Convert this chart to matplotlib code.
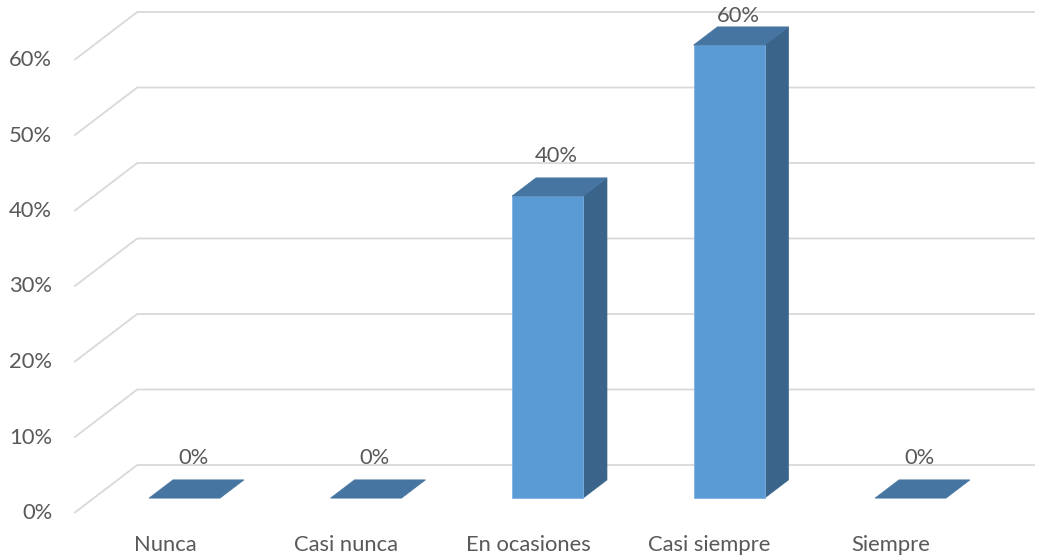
import matplotlib
matplotlib.use("Agg")
import matplotlib.pyplot as plt
from matplotlib.patches import Polygon

categories = ["Nunca", "Casi nunca", "En ocasiones", "Casi siempre", "Siempre"]
values = [0, 0, 40, 60, 0]
value_labels = ["0%", "0%", "40%", "60%", "0%"]
ticks = [0, 10, 20, 30, 40, 50, 60]
tick_labels = ["0%", "10%", "20%", "30%", "40%", "50%", "60%"]

plt.rcParams["font.family"] = ["Lato", "DejaVu Sans"]

W, H, DPI = 1038, 560, 100
fig = plt.figure(figsize=(W / DPI, H / DPI), dpi=DPI)
ax = fig.add_axes([0, 0, 1, 1])
ax.set_axis_off()

# scale: one category = 181.5 px, one percent = 7.55 px
CAT_PX, PCT_PX = 181.5, 7.55
X0_PX, Y0_PX = 165.0, 513.0
ax.set_xlim(-X0_PX / CAT_PX, (W - X0_PX) / CAT_PX)
ax.set_ylim(-(H - Y0_PX) / PCT_PX, Y0_PX / PCT_PX)

# oblique depth offset of the floor/wall (in data units)
DX = 63 / CAT_PX
DY = 48 / PCT_PX

grid_col = "#D9D9D9"
text_col = "#595959"
x_front_left = -0.5
x_right = (W - 3 - X0_PX) / CAT_PX

for t, lab in zip(ticks, tick_labels):
    ax.plot([x_front_left, x_front_left + DX, x_right], [t, t + DY, t + DY],
            color=grid_col, lw=1.3, zorder=1, solid_capstyle="butt")
    ax.text(x_front_left - 22 / CAT_PX, t, lab, ha="right", va="center",
            fontsize=15.8, color=text_col)

front_col = "#5B9BD5"
top_col = "#4675A1"
side_col = "#3A6489"
hw = 71 / CAT_PX / 2
z0, z1 = 0.31, 0.69

# data labels sit above the top face but stay inside the plot area
label_ceiling = (Y0_PX - 16) / PCT_PX

for i, (v, lab) in enumerate(zip(values, value_labels)):
    xl = i - hw
    xr = i + hw
    if v > 0:
        side = [(xr + z0 * DX, z0 * DY), (xr + z1 * DX, z1 * DY),
                (xr + z1 * DX, v + z1 * DY), (xr + z0 * DX, v + z0 * DY)]
        ax.add_patch(Polygon(side, closed=True, facecolor=side_col,
                             edgecolor=side_col, lw=0.5, zorder=3))
        front = [(xl + z0 * DX, z0 * DY), (xr + z0 * DX, z0 * DY),
                 (xr + z0 * DX, v + z0 * DY), (xl + z0 * DX, v + z0 * DY)]
        ax.add_patch(Polygon(front, closed=True, facecolor=front_col,
                             edgecolor="#7FB1E0", lw=0.6, zorder=4))
    top = [(xl + z0 * DX, v + z0 * DY), (xr + z0 * DX, v + z0 * DY),
           (xr + z1 * DX, v + z1 * DY), (xl + z1 * DX, v + z1 * DY)]
    ax.add_patch(Polygon(top, closed=True, facecolor=top_col,
                         edgecolor=top_col, lw=0.5, zorder=4))
    ly = min(v + 0.5 * DY + 31 / PCT_PX, label_ceiling)
    ax.text(i + 0.5 * DX - 3 / CAT_PX, ly, lab,
            ha="center", va="center", fontsize=15.8, color=text_col, zorder=5)
    ax.text(i, -32 / PCT_PX, categories[i], ha="center", va="center",
            fontsize=15.8, color=text_col)

fig.savefig("out.png", dpi=DPI, facecolor="white")
